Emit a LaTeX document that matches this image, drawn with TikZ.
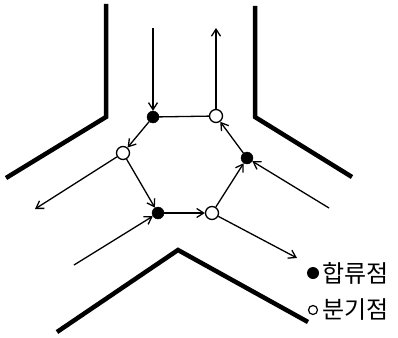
\documentclass[tikz,border=0pt]{standalone}
\usepackage{fontspec}
\newfontfamily\kor{Noto Sans CJK KR}
\usetikzlibrary{arrows.meta}
\begin{document}
\begin{tikzpicture}[x=1pt,y=-1pt,
 wall/.style={line width=4.5pt, line join=miter},
 flow/.style={line width=1.3pt,-{Straight Barb[length=7pt,width=9pt]}},
 hexedge/.style={line width=1.3pt},
 merge/.style={circle,fill=black,draw=black,inner sep=0pt,minimum size=12pt},
 split/.style={circle,fill=white,draw=black,line width=1.3pt,inner sep=0pt,minimum size=13pt},
 lbl/.style={font=\kor\fontsize{24}{26}\selectfont, anchor=west, inner sep=0pt}]
\useasboundingbox (0,0) rectangle (398,337);
% walls
\draw[wall] (106,4) -- (106,117) -- (6,178);
\draw[wall] (255,6) -- (255,117) -- (352,177);
\draw[wall] (57,332) -- (178,250) -- (308,322);
% nodes
\node[merge] (m1) at (153,117) {};
\node[split] (s1) at (216,116) {};
\node[split] (s2) at (123,153) {};
\node[merge] (m2) at (247,158) {};
\node[merge] (m3) at (158,213) {};
\node[split] (s3) at (212,213) {};
% free ends
\coordinate (inTop) at (153,28);
\coordinate (outTop) at (216,28);
\coordinate (outLeft) at (35,209);
\coordinate (inLL) at (74,265);
\coordinate (inLR) at (329,208);
\coordinate (outLR) at (297,258);
% connectors
\draw[hexedge] (m1) -- (s1);
\draw[flow] (m1) -- (s2);
\draw[flow] (s2) -- (m3);
\draw[flow] (m3) -- (s3);
\draw[flow] (s3) -- (m2);
\draw[flow] (m2) -- (s1);
\draw[flow] (inTop) -- (m1);
\draw[flow] (s1) -- (outTop);
\draw[flow] (s2) -- (outLeft);
\draw[flow] (inLL) -- (m3);
\draw[flow] (inLR) -- (m2);
\draw[flow] (s3) -- (outLR);
% legend
\node[circle,fill=black,inner sep=0pt,minimum size=12pt] (lm) at (313,273) {};
\node[circle,draw=black,fill=white,line width=1.2pt,inner sep=0pt,minimum size=9pt] (ls) at (313,310) {};
\node[lbl] (tm) at (322,273) {합류점};
\node[lbl] (ts) at (322,310) {분기점};
\end{tikzpicture}
\end{document}
